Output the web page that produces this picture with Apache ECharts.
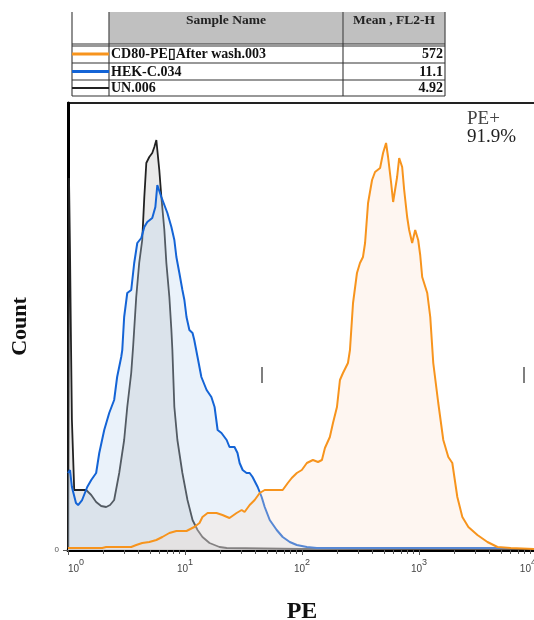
<!DOCTYPE html>
<html>
<head>
<meta charset="utf-8">
<script src="https://cdn.jsdelivr.net/npm/echarts@6/dist/echarts.min.js"></script>
<style>
  html, body { margin: 0; padding: 0; background: #fff; }
  #chart { width: 534px; height: 620px; }
</style>
</head>
<body>
<div id="chart"></div>
<script>
// table rows
var sampleNames = ['CD80-PE\u25AFAfter wash.003', 'HEK-C.034', 'UN.006'];
var meanFL2 = ['572', '11.1', '4.92'];
var sampleColors = ['#f7941d', '#1464d6', '#222222'];

// UN.006 histogram (PE value, count)
var unPE = [1.00, 1.02, 1.04, 1.06, 1.08, 1.13, 1.24, 1.43, 1.58, 1.74, 1.92, 2.12, 2.29, 2.48, 2.74, 3.02,
  3.21, 3.47, 3.61, 3.83, 4.06, 4.31, 4.49, 4.67, 4.95, 5.25, 5.47, 5.69, 5.80, 6.03, 6.28, 6.66, 6.93,
  7.35, 7.65, 7.80, 8.11, 8.61, 9.50, 10.5, 11.6, 12.8, 14.1, 16.2, 19.7, 22.7, 95.7, 8990];
var unCount = [2, 372, 300, 210, 130, 60, 60, 60, 55, 48, 44, 43, 45, 50, 77, 110,
  143, 177, 205, 253, 287, 310, 353, 387, 393, 397, 403, 410, 400, 380, 353, 320, 287,
  253, 220, 200, 143, 110, 77, 50, 30, 20, 13, 7, 3, 2, 1, 1];

// HEK-C.034 histogram
var hekPE = [1.00, 1.04, 1.08, 1.17, 1.22, 1.32, 1.46, 1.58, 1.74, 1.85, 2.04, 2.25, 2.48, 2.63, 2.85, 2.91,
  3.02, 3.21, 3.47, 3.68, 3.91, 4.23, 4.49, 4.76, 5.25, 5.58, 5.80, 6.03, 6.28, 6.66, 7.07, 7.65, 8.11,
  8.44, 8.95, 9.50, 9.88, 10.3, 10.9, 11.6, 12.0, 12.8, 13.8, 15.3, 16.8, 17.9, 19.0, 20.5, 22.7, 24.0,
  26.5, 28.1, 29.3, 31.1, 33.6, 35.7, 37.8, 41.8, 45.2, 48.0, 53.0, 60.8, 68.4, 78.6, 90.3, 110, 134, 6056];
var hekCount = [77, 80, 63, 47, 45, 50, 63, 70, 77, 97, 120, 137, 150, 173, 193, 200,
  233, 257, 260, 287, 307, 312, 323, 328, 332, 343, 365, 363, 353, 345, 337, 323, 310,
  293, 277, 260, 250, 233, 220, 217, 210, 193, 173, 160, 153, 143, 120, 117, 110, 103,
  103, 97, 87, 80, 77, 77, 73, 63, 53, 43, 30, 20, 13, 8, 5, 3, 2, 2];

// CD80-PE After wash.003 histogram
var cd80PE = [1.00, 1.96, 2.12, 3.47, 3.83, 4.31, 4.95, 5.69, 6.40, 7.35, 8.44, 10.3, 12.0, 13.3, 14.1, 15.6,
  18.6, 20.9, 24.0, 27.6, 30.5, 32.3, 35.7, 39.4, 43.5, 48.0, 68.4, 75.6, 81.7, 90.3, 99.6, 110, 124,
  137, 148, 157, 173, 184, 199, 211, 224, 247, 257, 273, 295, 313, 332, 346, 367, 397, 421, 465, 493,
  523, 544, 578, 601, 650, 677, 718, 747, 792, 824, 874, 928, 984, 1024, 1065, 1176, 1248, 1324, 1461,
  1613, 1780, 1926, 2126, 2347, 2642, 3157, 3845, 4686, 6056, 10000];
var cd80Count = [2, 2, 3, 3, 5, 7, 8, 10, 13, 17, 19, 19, 23, 27, 33, 37,
  37, 35, 32, 37, 40, 38, 45, 50, 57, 60, 60, 67, 72, 77, 80, 87, 90,
  88, 90, 102, 113, 127, 143, 170, 177, 187, 200, 247, 277, 287, 293, 307, 347, 370, 378, 382, 397,
  407, 393, 367, 348, 373, 392, 383, 360, 333, 320, 307, 320, 310, 295, 273, 257, 233, 187, 147,
  110, 93, 87, 53, 33, 23, 15, 8, 3, 2, 1];

// PE+ gate markers
var gatePE = [45.2, 7830];
var gateCount = [167, 183];
var gateLabel = ['PE+', '91.9%'];

function zip(xs, ys) {
  return xs.map(function (x, i) { return [x, ys[i]]; });
}

var myChart = echarts.init(document.getElementById('chart'), null, { renderer: 'canvas' });

var serif = '"Liberation Serif", "Times New Roman", serif';
var tableGraphics = [];
// header grey block
tableGraphics.push({ type: 'rect', shape: { x: 109, y: 12, width: 336, height: 32 }, style: { fill: '#c0c0c0' }, silent: true });
// vertical lines
[72, 109, 343, 445].forEach(function (x) {
  tableGraphics.push({ type: 'line', shape: { x1: x, y1: 12, x2: x, y2: 96 }, style: { stroke: '#555', lineWidth: 1.3 }, silent: true });
});
// horizontal lines
[44, 46, 63, 80, 96].forEach(function (y) {
  tableGraphics.push({ type: 'line', shape: { x1: 72, y1: y, x2: 445, y2: y }, style: { stroke: '#333', lineWidth: 1.2 }, silent: true });
});
tableGraphics.push({ type: 'text', x: 226, y: 21, style: { text: 'Sample Name', font: 'bold 13.5px ' + serif, fill: '#222', align: 'center', verticalAlign: 'middle' }, silent: true });
tableGraphics.push({ type: 'text', x: 394, y: 21, style: { text: 'Mean , FL2-H', font: 'bold 13.5px ' + serif, fill: '#222', align: 'center', verticalAlign: 'middle' }, silent: true });
var rowMid = [54, 71.5, 88];
sampleNames.forEach(function (name, i) {
  tableGraphics.push({ type: 'line', shape: { x1: 72, y1: rowMid[i], x2: 109, y2: rowMid[i] }, style: { stroke: sampleColors[i], lineWidth: i === 2 ? 2 : 3 }, silent: true });
  tableGraphics.push({ type: 'text', x: 111, y: rowMid[i] + 0.5, style: { text: name, font: 'bold 14px ' + serif, fill: '#111', align: 'left', verticalAlign: 'middle' }, silent: true });
  tableGraphics.push({ type: 'text', x: 443, y: rowMid[i] + 0.5, style: { text: meanFL2[i], font: 'bold 14px ' + serif, fill: '#111', align: 'right', verticalAlign: 'middle' }, silent: true });
});
// PE+ 91.9%
tableGraphics.push({ type: 'text', x: 467, y: 110, style: { text: gateLabel[0], font: '19px ' + serif, fill: '#444', align: 'left', verticalAlign: 'top' }, silent: true });
tableGraphics.push({ type: 'text', x: 467, y: 128, style: { text: gateLabel[1], font: '19px ' + serif, fill: '#222', align: 'left', verticalAlign: 'top' }, silent: true });

var option = {
  animation: false,
  backgroundColor: '#fff',
  grid: {
    left: 68, right: -2, top: 103, bottom: 70,
    outerBoundsMode: 'none',
    containLabel: false,
    show: true, borderColor: '#222', borderWidth: 2, backgroundColor: 'transparent'
  },
  xAxis: {
    type: 'log',
    logBase: 10,
    min: 1,
    max: 10000,
    name: 'PE',
    nameLocation: 'middle',
    nameGap: 50,
    nameTextStyle: { fontFamily: serif, fontWeight: 'bold', fontSize: 24, color: '#111' },
    axisLine: { show: true, onZero: false, lineStyle: { color: '#000', width: 3 } },
    axisTick: { show: true, length: 5, lineStyle: { color: '#555', width: 1 } },
    minorTick: { show: true, splitNumber: 9, length: 4, lineStyle: { color: '#555', width: 1 } },
    splitLine: { show: false },
    minorSplitLine: { show: false },
    axisLabel: {
      margin: 6,
      alignMinLabel: 'left',
      alignMaxLabel: 'right',
      formatter: function (v) {
        return '{b|10}{s|' + Math.round(Math.log10(v)) + '}';
      },
      rich: {
        b: { fontSize: 10, fontFamily: 'Liberation Sans', color: '#444', padding: [8, 0, 0, 0] },
        s: { fontSize: 9, fontFamily: 'Liberation Sans', color: '#444', padding: [0, 0, 4, 0] }
      }
    }
  },
  yAxis: {
    type: 'value',
    min: 0,
    max: 447,
    name: 'Count',
    nameLocation: 'middle',
    nameGap: 37,
    nameTextStyle: { fontFamily: serif, fontWeight: 'bold', fontSize: 22, color: '#111' },
    axisLine: { show: true, lineStyle: { color: '#000', width: 3 } },
    axisTick: { show: true, length: 5, customValues: [0], lineStyle: { color: '#555' } },
    axisLabel: { customValues: [0], fontSize: 8, color: '#555', margin: 9, fontFamily: 'Liberation Sans' },
    splitLine: { show: false }
  },
  graphic: tableGraphics,
  series: [
    {
      name: sampleNames[2],
      type: 'line',
      z: 2,
      showSymbol: false,
      symbol: 'none',
      data: zip(unPE, unCount),
      lineStyle: { color: sampleColors[2], width: 1.8 },
      areaStyle: { color: '#e6e6e6', opacity: 0.85 },
      silent: true
    },
    {
      name: sampleNames[1],
      type: 'line',
      z: 3,
      showSymbol: false,
      symbol: 'none',
      data: zip(hekPE, hekCount),
      lineStyle: { color: sampleColors[1], width: 2 },
      areaStyle: { color: 'rgba(190,215,240,0.45)' },
      silent: true
    },
    {
      name: sampleNames[0],
      type: 'line',
      z: 4,
      showSymbol: false,
      symbol: 'none',
      data: zip(cd80PE, cd80Count),
      lineStyle: { color: sampleColors[0], width: 2 },
      areaStyle: { color: 'rgba(252,226,206,0.42)' },
      silent: true,
      markLine: {
        silent: true,
        symbol: 'none',
        label: { show: false },
        lineStyle: { color: '#555', width: 1.5, type: 'solid' },
        data: gatePE.map(function (g) {
          return [{ coord: [g, gateCount[0]] }, { coord: [g, gateCount[1]] }];
        })
      }
    }
  ]
};
myChart.setOption(option);
</script>
</body>
</html>
